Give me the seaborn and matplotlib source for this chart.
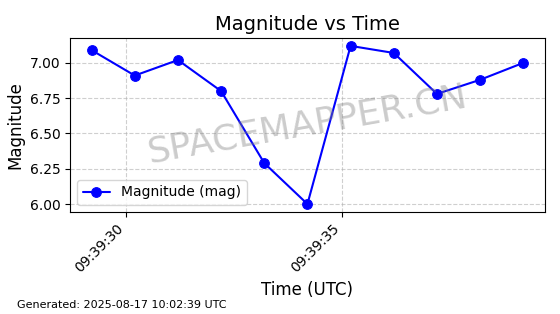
import matplotlib
matplotlib.use("Agg")
import matplotlib.pyplot as plt
import matplotlib.dates as mdates
import seaborn as sns
import pandas as pd

times = ["2025-08-17 09:39:29.2", "2025-08-17 09:39:30.2", "2025-08-17 09:39:31.2",
         "2025-08-17 09:39:32.2", "2025-08-17 09:39:33.2", "2025-08-17 09:39:34.2",
         "2025-08-17 09:39:35.2", "2025-08-17 09:39:36.2", "2025-08-17 09:39:37.2",
         "2025-08-17 09:39:38.2", "2025-08-17 09:39:39.2"]
magnitudes = [7.09, 6.91, 7.02, 6.80, 6.29, 6.00, 7.12, 7.07, 6.78, 6.88, 7.00]

df = pd.DataFrame({"time": pd.to_datetime(times), "mag": magnitudes})

sns.set_style("ticks")
plt.rcParams['font.family'] = ['DejaVu Sans']
plt.rcParams.update({"text.color": "black", "axes.labelcolor": "black",
                     "xtick.color": "black", "ytick.color": "black"})

fig = plt.figure(figsize=(5.6, 3.14), dpi=100)
ax = fig.add_axes([0.125, 0.325, 0.848, 0.554])

sns.lineplot(data=df, x="time", y="mag", ax=ax, color="blue", marker="o",
             markersize=7, markeredgecolor="blue", linewidth=1.5,
             label="Magnitude (mag)")

ax.set_title("Magnitude vs Time", fontsize=14, color="black")
ax.set_xlabel("Time (UTC)", fontsize=12)
ax.set_ylabel("Magnitude", fontsize=12)
ax.set_yticks([6.0, 6.25, 6.5, 6.75, 7.0])
ax.set_yticklabels(["6.00", "6.25", "6.50", "6.75", "7.00"])
ax.xaxis.set_major_locator(mdates.SecondLocator(bysecond=range(0, 60, 5)))
ax.xaxis.set_major_formatter(mdates.DateFormatter("%H:%M:%S"))
plt.setp(ax.get_xticklabels(), rotation=45, ha="right")
ax.tick_params(labelsize=10, colors="black")
ax.grid(True, linestyle="--", color="#b0b0b0", alpha=0.6)
for s in ax.spines.values():
    s.set_visible(True)
    s.set_color("black")
ax.legend(loc="lower left", fontsize=10)

ax.text(0.5, 0.5, "SPACEMAPPER.CN", transform=ax.transAxes, fontsize=26,
        color="gray", alpha=0.4, rotation=10, ha="center", va="center")

fig.text(0.03, 0.02, "Generated: 2025-08-17 10:02:39 UTC", fontsize=8)

fig.savefig("out.png", dpi=100)
